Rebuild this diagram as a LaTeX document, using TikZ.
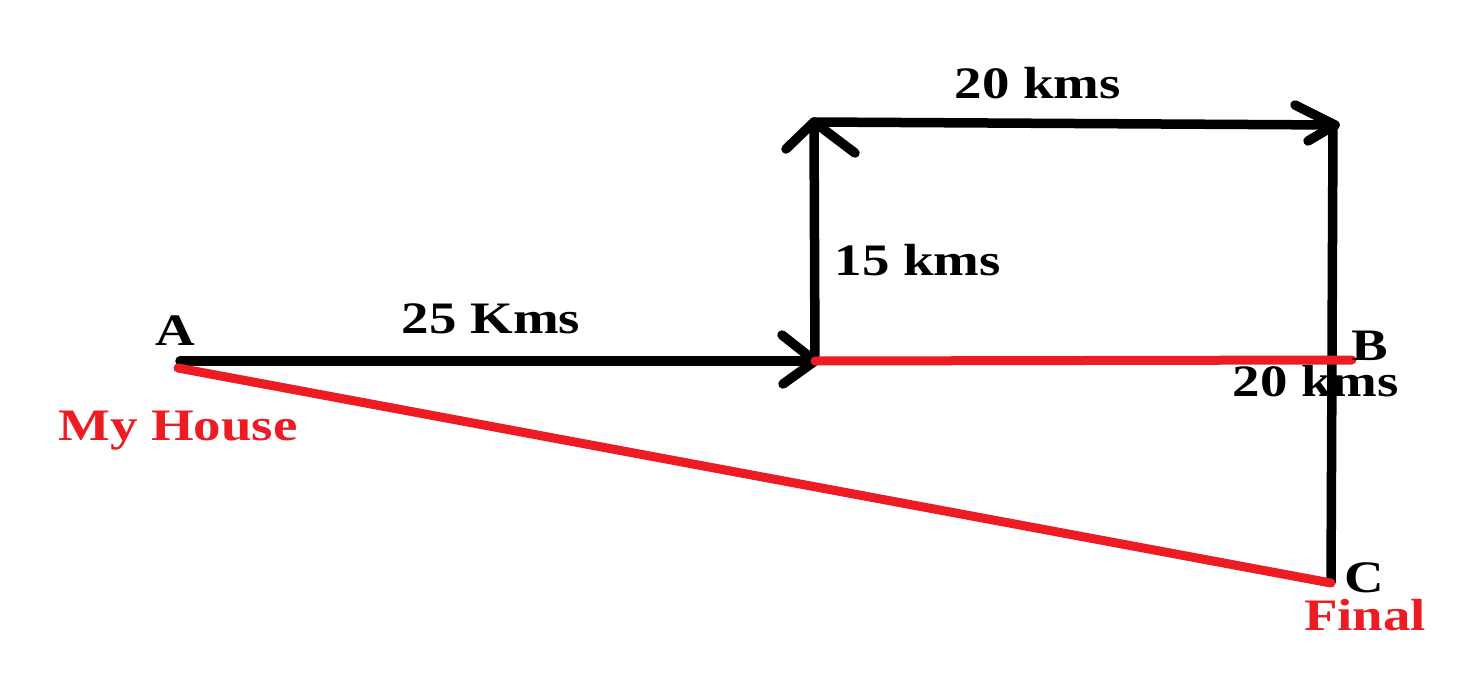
\documentclass[tikz,border=0pt]{standalone}
\usepackage{fontspec}
\newfontfamily\labfont[FakeStretch=1.22]{Liberation Serif}
\definecolor{pred}{HTML}{ED1C24}
\begin{document}
\begin{tikzpicture}[x=1pt,y=-1pt,
  blk/.style={line width=9.5pt,black,line cap=round,line join=round},
  rd/.style={line width=9pt,pred,line cap=round},
  lab/.style={font=\labfont\bfseries\fontsize{45}{48}\selectfont,inner sep=0pt,anchor=base},
  rlab/.style={lab,text=pred}]
\useasboundingbox (0,0) rectangle (1459,685);
\fill[white] (0,0) rectangle (1459,685);
% points
\coordinate (A) at (180,361);
\coordinate (Ar) at (178,368);
\coordinate (P) at (815,361);
\coordinate (Q) at (814,122);
\coordinate (R) at (1335,125);
\coordinate (Rt) at (1333,125);
\coordinate (B) at (1352,360);
\coordinate (C) at (1331,583);
% barbs
\coordinate (p1) at (782,335);
\coordinate (p2) at (783,384);
\coordinate (q1) at (786,149);
\coordinate (q2) at (855,153);
\coordinate (r1) at (1295,105);
\coordinate (r2) at (1308,141);
% text below vertical line
\node[lab] (l20b) at (1316,396) {20 kms};
% black path
\draw[blk] (A) -- (P);
\draw[blk] (p1) -- (P) -- (p2);
\draw[blk] (P) -- (Q);
\draw[blk] (q1) -- (Q) -- (q2);
\draw[blk] (Q) -- (R);
\draw[blk] (r1) -- (R) -- (r2);
\draw[blk,line cap=butt] (Rt) -- (C);
% red
\draw[rd] (P) -- (B);
\draw[rd] (Ar) -- (C);
% labels
\node[lab] (l20) at (1038,98) {20 kms};
\node[lab] (l15) at (918,275) {15 kms};
\node[lab] (l25) at (491,333) {25 Kms};
\node[lab] (la) at (175,345) {A};
\node[lab] (lb) at (1370,360) {B};
\node[lab] (lc) at (1364,592) {C};
\node[rlab] (lf) at (1365,630) {Final};
\node[rlab] (lh) at (178,440) {My House};
\end{tikzpicture}
\end{document}
